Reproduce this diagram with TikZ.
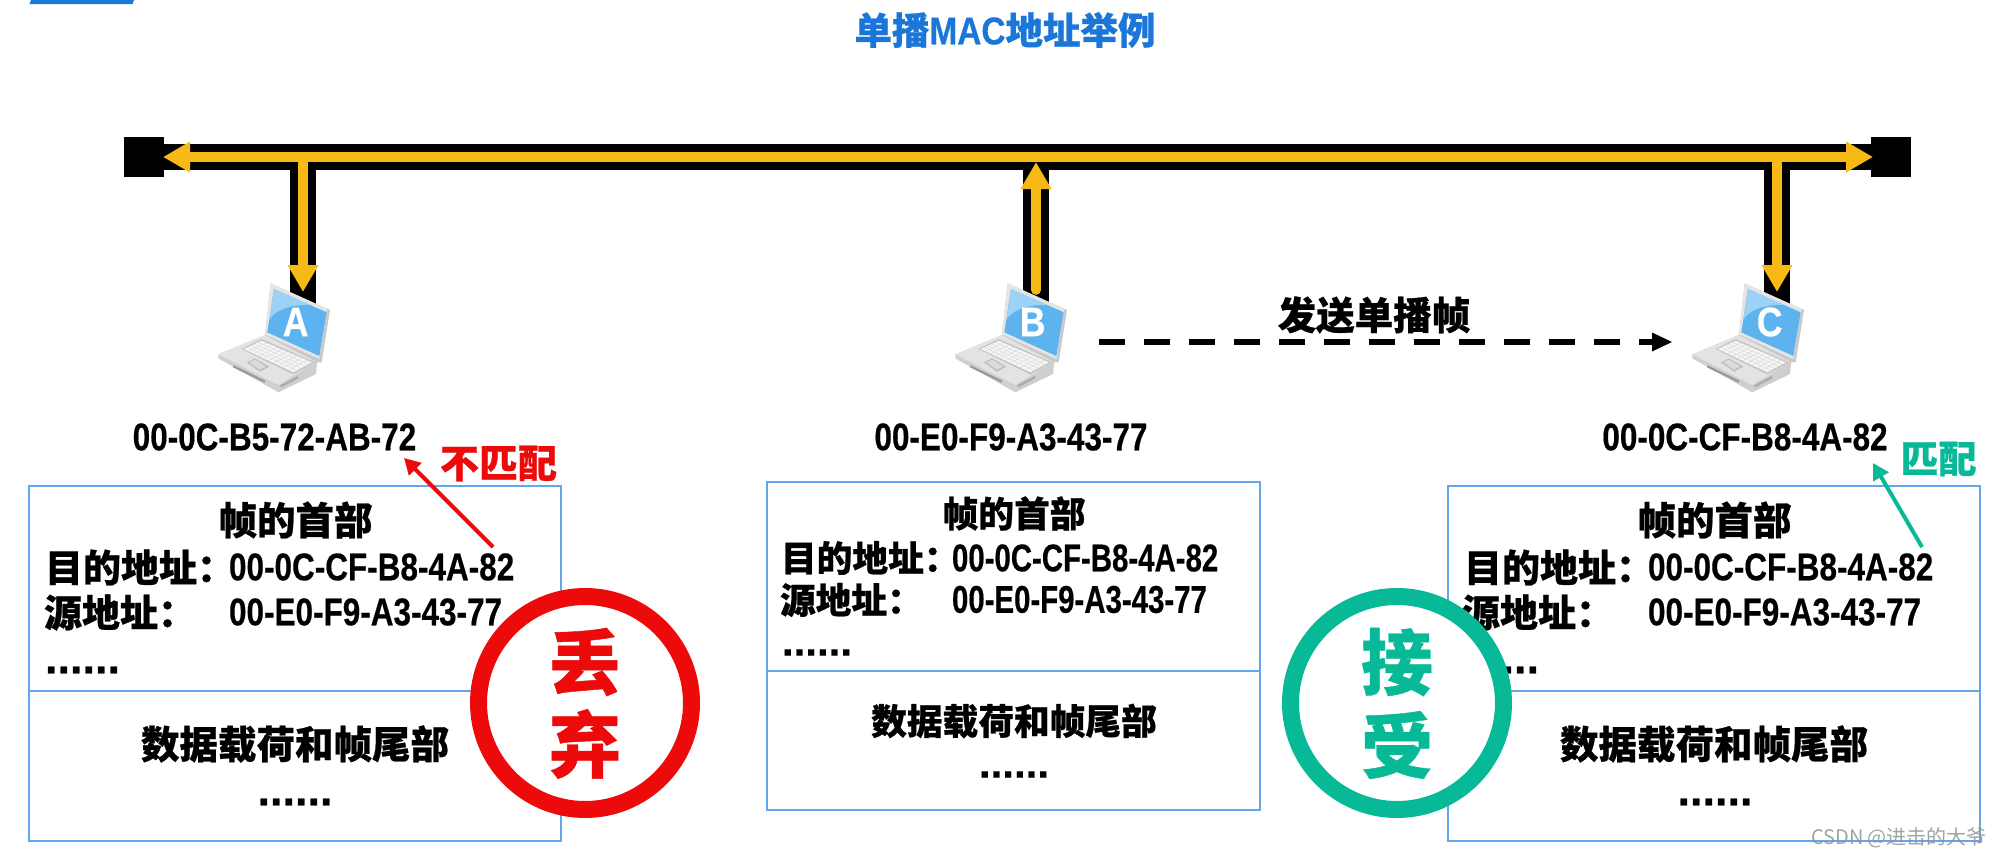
\documentclass[tikz,border=0pt]{standalone}
\usepackage{fontspec}
\usepackage{graphicx}
\usetikzlibrary{arrows.meta,calc}
\setmainfont{Liberation Sans}[BoldFeatures={FakeBold=0.5}]
\newfontfamily\cjk{Noto Sans CJK SC}[BoldFeatures={FakeBold=0.6}]
\definecolor{gold}{HTML}{F6B916}
\definecolor{frameblue}{HTML}{62A6EE}
\definecolor{titleblue}{HTML}{1A76D8}
\definecolor{redmark}{HTML}{EC0A0A}
\definecolor{greenmark}{HTML}{07B997}
\definecolor{lapblue}{HTML}{5CB3EE}
\newcommand\fs[1]{\fontsize{#1}{#1}\selectfont}
\newcommand\zh[2]{{\fs{#1}\cjk\bfseries #2}}
\newcommand\mac[2]{\scalebox{#1}[1.03]{\fs{37.5}\bfseries #2}}
\newcommand\dotsix[1]{{\fs{#1}\bfseries ......}}
\newcommand\laptop[3]{%
\begin{scope}[shift={(#1,275)},x=0.3333pt,y=-0.3333pt]
 \fill[gray!38] (25,238) -- (165,180) -- (322,258) -- (318,297) -- (205,352) -- (25,250) -- cycle;
 \fill[gray!22] (25,238) -- (165,180) -- (322,258) -- (205,330) -- cycle;
 \fill[gray!48] (95,222) -- (155,192) -- (315,262) -- (250,298) -- cycle;
 \fill[white!92!gray] (101,222) -- (155,197) -- (306,262) -- (250,292) -- cycle;
 \foreach \t in {0.2,0.4,0.6,0.8}{\draw[gray!32,line width=0.4pt] ($(101,222)!\t!(155,197)$) -- ($(250,292)!\t!(306,262)$);}
 \foreach \t in {0.1,0.2,...,0.9}{\draw[gray!32,line width=0.4pt] ($(101,222)!\t!(250,292)$) -- ($(155,197)!\t!(306,262)$);}
 \fill[gray!50] (110,262) -- (135,250) -- (178,275) -- (150,290) -- cycle;
 \fill[gray!28] (118,262) -- (135,254) -- (168,274) -- (150,284) -- cycle;
 \draw[gray!80,line width=2.2pt] (70,274) -- (165,320);
 \draw[gray!65,line width=2.4pt] (212,334) -- (265,306);
 \fill[gray!42] (182,25) -- (360,105) -- (335,262) -- (322,262) -- (165,180) -- cycle;
 \fill[gray!20] (182,25) -- (352,102) -- (328,252) -- (165,178) -- cycle;
 \fill[lapblue] (192,42) -- (350,112) -- (328,243) -- (172,172) -- cycle;
 \fill[lapblue!60!white] (192,42) -- (300,90) .. controls (240,88) and (195,105) .. (178,135) -- cycle;
 \node[letter] (#2) at (257,141) {\scalebox{0.95}[1.1]{\fs{37.5}\bfseries #3}};
\end{scope}}
\tikzset{
 busline/.style={line width=26pt,black},
 goldline/.style={line width=9.5pt,gold,-{Triangle[length=27pt,width=29pt]}},
 terminal/.style={fill=black,draw=none,minimum size=40pt,inner sep=0pt,outer sep=0pt},
 letter/.style={inner sep=0pt,text=white},
 txt/.style={inner sep=0pt,outer sep=0pt,text=black},
 frame/.style={draw=frameblue,line width=2pt,inner sep=0pt,outer sep=0pt,fill=white},
 seal/.style={circle,line width=17pt,fill=white,minimum size=213pt,inner sep=0pt,outer sep=0pt},
 marrow/.style={line width=4pt,-{Triangle[length=16pt,width=17pt]}},
}
\begin{document}
\begin{tikzpicture}[x=1pt,y=-1pt]
\useasboundingbox (0,0) rectangle (2000,857);
\fill[white] (0,0) rectangle (2000,857);
% top bar and title
\fill[titleblue] (31,0) -- (134,0) -- (132.5,4) -- (29.5,4) -- cycle;
\node[txt,text=titleblue] (title) at (1005,30) {\zh{37.5}{单播}\mac{0.89}{MAC}\zh{37.5}{地址举例}};
% bus
\node[terminal] (termL) at (144,157) {};
\node[terminal] (termR) at (1891,157) {};
\coordinate (tapA) at (303,157);
\coordinate (tapB) at (1036,157);
\coordinate (tapC) at (1777,157);
\coordinate (hostA) at (303,312);
\coordinate (hostB) at (1036,312);
\coordinate (hostC) at (1777,312);
\coordinate (tipA) at (303,292);
\coordinate (tipB) at (1036,162);
\coordinate (tipC) at (1777,292);
\coordinate (startB) at (1036,290);
\coordinate (tipL) at (163,157);
\coordinate (tipR) at (1873,157);
\draw[busline] (termL) -- (termR);
\draw[busline] (tapA) -- (hostA);
\draw[busline] (tapB) -- (hostB);
\draw[busline] (tapC) -- (hostC);
\draw[goldline] (tapB) -- (tipL);
\draw[goldline] (tapB) -- (tipR);
\draw[goldline] (tapA) -- (tipA);
\draw[goldline] (tapC) -- (tipC);
\draw[goldline,line cap=round] (startB) -- (tipB);
% laptops
\laptop{210}{pcA}{A}
\laptop{947}{pcB}{B}
\laptop{1684}{pcC}{C}
% send arrow
\coordinate (sendS) at (1099,342);
\coordinate (sendE) at (1655,342);
\coordinate (sendT) at (1672,342);
\draw[line width=6.5pt,dash pattern=on 26pt off 19pt] (sendS) -- (sendE);
\fill (1652,332.5) -- (sendT) -- (1652,351.5) -- cycle;
\node[txt] (sendlabel) at (1374,315) {\zh{38.5}{发送单播帧}};
% address labels
\node[txt] (addrA) at (274.5,437) {\mac{0.84}{00-0C-B5-72-AB-72}};
\node[txt] (addrB) at (1011,437) {\mac{0.84}{00-E0-F9-A3-43-77}};
\node[txt] (addrC) at (1745,437) {\mac{0.84}{00-0C-CF-B8-4A-82}};
% left frame
\node[frame,minimum width=532pt,minimum height=205pt] (headA) at (294.75,588) {};
\node[frame,minimum width=532pt,minimum height=150pt] (bodyA) at (294.75,765.5) {};
\node[txt] at (295.5,520) {\zh{38.5}{帧的首部}};
\node[txt,anchor=west] at (45,567.5) {\zh{38}{目的地址：}};
\node[txt,anchor=west] (dstA) at (229,567) {\mac{0.84}{00-0C-CF-B8-4A-82}};
\node[txt,anchor=west] at (44,612.5) {\zh{38}{源地址：}};
\node[txt,anchor=west] at (229,612) {\mac{0.84}{00-E0-F9-A3-43-77}};
\node[txt,anchor=west] at (45,670) {\dotsix{45}};
\node[txt] at (295,744) {\zh{38.5}{数据载荷和帧尾部}};
\node[txt] at (295,802) {\dotsix{45}};
% centre frame
\node[frame,minimum width=493pt,minimum height=189pt] (headB) at (1013.5,576.5) {};
\node[frame,minimum width=493pt,minimum height=139pt] (bodyB) at (1013.5,740.5) {};
\node[txt] at (1014,513.5) {\zh{35.7}{帧的首部}};
\node[txt,anchor=west] at (781,558) {\zh{35.7}{目的地址：}};
\node[txt,anchor=west] at (952,558) {\mac{0.784}{00-0C-CF-B8-4A-82}};
\node[txt,anchor=west] at (780,600) {\zh{35.7}{源地址：}};
\node[txt,anchor=west] at (952,599.5) {\mac{0.784}{00-E0-F9-A3-43-77}};
\node[txt,anchor=west] at (782,652.5) {\dotsix{42}};
\node[txt] at (1014,721) {\zh{35.7}{数据载荷和帧尾部}};
\node[txt] at (1014,774.5) {\dotsix{42}};
% right frame
\node[frame,minimum width=532pt,minimum height=205pt] (headC) at (1714,588) {};
\node[frame,minimum width=532pt,minimum height=150pt] (bodyC) at (1714,765.5) {};
\node[txt] at (1714.5,520) {\zh{38.5}{帧的首部}};
\node[txt,anchor=west] at (1464,567.5) {\zh{38}{目的地址：}};
\node[txt,anchor=west] (dstC) at (1648,567) {\mac{0.84}{00-0C-CF-B8-4A-82}};
\node[txt,anchor=west] at (1462,612.5) {\zh{38}{源地址：}};
\node[txt,anchor=west] at (1648,612) {\mac{0.84}{00-E0-F9-A3-43-77}};
\node[txt,anchor=west] at (1464,670) {\dotsix{45}};
\node[txt] at (1714,744) {\zh{38.5}{数据载荷和帧尾部}};
\node[txt] at (1715,802) {\dotsix{45}};
% match arrows
\coordinate (redS) at (493,547);
\coordinate (redT) at (404,458);
\coordinate (greenS) at (1922,547);
\coordinate (greenT) at (1873,463);
\draw[marrow,redmark] (redS) -- (redT);
\draw[marrow,greenmark] (greenS) -- (greenT);
\node[txt,text=redmark] (nomatch) at (498.5,463.5) {\zh{39}{不匹配}};
\node[txt,text=greenmark] (match) at (1938.5,459) {\zh{38}{匹配}};
% seals
\node[seal,draw=redmark] (drop) at (585,703) {};
\node[txt,text=redmark] at (585,662) {\zh{72}{丢}};
\node[txt,text=redmark] at (585,744) {\zh{72}{弃}};
\node[seal,draw=greenmark] (accept) at (1397,703) {};
\node[txt,text=greenmark] at (1397,662) {\zh{72}{接}};
\node[txt,text=greenmark] at (1397,745) {\zh{72}{受}};
% watermark
\node[txt,text=gray!85,opacity=0.85] (wm) at (1899,838) {{\fs{20}\cjk CSDN @进击的大爷}};
\end{tikzpicture}
\end{document}
